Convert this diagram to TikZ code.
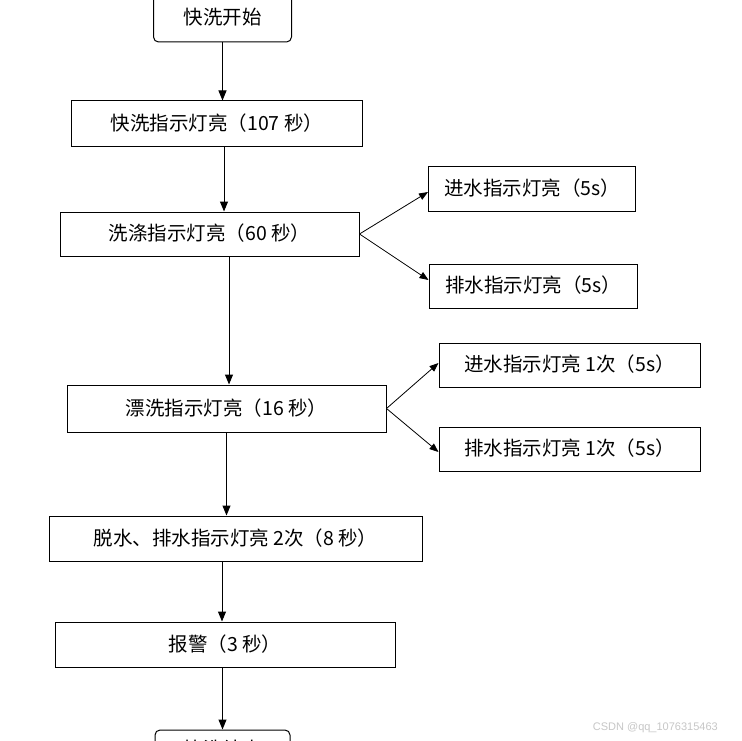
\documentclass[tikz,border=0pt]{standalone}
\usepackage{fontspec}
\setmainfont{Noto Sans CJK SC}
\newfontfamily\wmfont{Liberation Sans}
\usetikzlibrary{arrows.meta}
\begin{document}
\begin{tikzpicture}[x=1pt,y=-1pt,
  box/.style={draw=black,line width=1pt,inner sep=0pt,font=\fontsize{19.5}{22}\selectfont},
  rbox/.style={box,rounded corners=5pt},
  arr/.style={line width=1pt,-{Triangle[length=10pt,width=8pt]}},
  darr/.style={line width=0.8pt,-{Triangle[length=9pt,width=7pt]}}]
\useasboundingbox (0,0) rectangle (742,741);
\clip (0,0) rectangle (742,741);
\fill[white] (0,0) rectangle (742,741);
% main column
\node[rbox,minimum width=138pt,minimum height=50pt] (b1) at (222.5,17) {\raisebox{-6pt}{快洗开始}};
\node[box,minimum width=291pt,minimum height=46pt] (b2) at (217,124) {\raisebox{3pt}{快洗指示灯亮（107 秒）}};
\node[box,minimum width=299pt,minimum height=44pt] (b3) at (209.5,234) {\raisebox{3pt}{洗涤指示灯亮（60 秒）}};
\node[box,minimum width=319pt,minimum height=47pt] (b4) at (226.5,408.5) {\raisebox{3pt}{漂洗指示灯亮（16 秒）}};
\node[box,minimum width=373pt,minimum height=45pt] (b5) at (235.5,538.5) {\raisebox{3pt}{脱水、排水指示灯亮 2次（8 秒）}};
\node[box,minimum width=340pt,minimum height=45pt] (b6) at (225,644.5) {\raisebox{3pt}{报警（3 秒）}};
\node[rbox,minimum width=135pt,minimum height=45pt] (b7) at (222.5,752.5) {\raisebox{8pt}{快洗结束}};
% side boxes
\node[box,minimum width=207pt,minimum height=45pt] (in1) at (532,189) {\raisebox{3pt}{进水指示灯亮（5s）}};
\node[box,minimum width=208pt,minimum height=44pt] (out1) at (533,286) {\raisebox{3pt}{排水指示灯亮（5s）}};
\node[box,minimum width=261pt,minimum height=44pt] (in2) at (569.5,365) {\raisebox{3pt}{进水指示灯亮 1次（5s）}};
\node[box,minimum width=261pt,minimum height=44pt] (out2) at (569.5,449) {\raisebox{3pt}{排水指示灯亮 1次（5s）}};
% vertical connectors
\draw[arr] (b1.south) -- (b1.south |- b2.north);
\draw[arr] ([xshift=7pt]b2.south) -- ([xshift=7pt]b2.south |- b3.north);
\draw[arr] ([xshift=19.5pt]b3.south) -- ([xshift=19.5pt]b3.south |- b4.north);
\draw[arr] (b4.south) -- (b4.south |- b5.north);
\draw[arr] ([xshift=-3pt]b6.north |- b5.south) -- ([xshift=-3pt]b6.north);
\draw[arr] (b7.north |- b6.south) -- (b7.north);
% branching connectors
\draw[darr] (b3.east) -- ([yshift=-3pt]in1.west);
\draw[darr] (b3.east) -- ([yshift=6pt]out1.west);
\draw[darr] (b4.east) -- ([yshift=2pt]in2.west);
\draw[darr] (b4.east) -- ([yshift=-3pt]out2.west);
% watermark
\node[font=\wmfont\fontsize{11}{13}\selectfont,text=black!22,anchor=east,inner sep=0pt] (wm) at (718,728) {CSDN @qq\_1076315463};
\end{tikzpicture}
\end{document}
